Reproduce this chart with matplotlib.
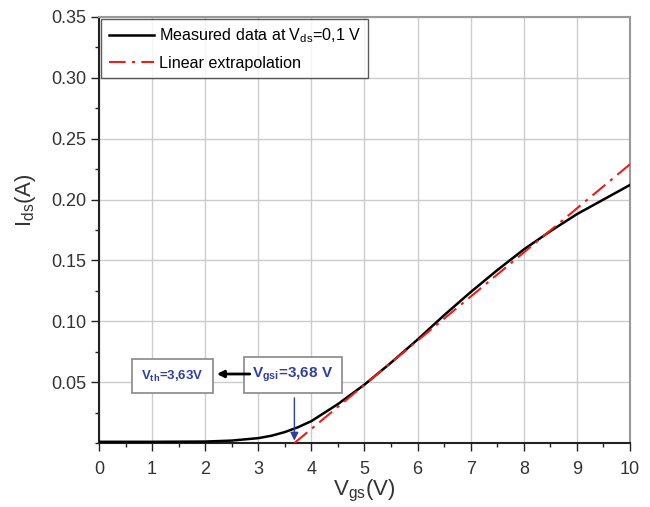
import numpy as np
import matplotlib
matplotlib.use("Agg")
import matplotlib.pyplot as plt
from matplotlib.ticker import MultipleLocator, FixedLocator

plt.rcParams['font.family'] = ['Liberation Sans', 'DejaVu Sans']

# -----------------------------
# data
# -----------------------------
vgs = [0, 1, 2, 2.5, 3, 3.25, 3.5, 3.75, 4, 4.25, 4.5, 4.75, 5, 5.5,
       6, 6.5, 7, 7.5, 8, 8.5, 9, 9.5, 10]
ids = [0.001, 0.001, 0.0012, 0.002, 0.004, 0.006, 0.009, 0.013, 0.018,
       0.025, 0.032, 0.040, 0.048, 0.066, 0.085, 0.105, 0.124, 0.142,
       0.159, 0.174, 0.188, 0.200, 0.212]

extrap_x = [3.68, 10]
extrap_y = [0.0, 0.229]

vgsi = 3.68
vth = 3.63

y_ticks = [0.05, 0.10, 0.15, 0.20, 0.25, 0.30, 0.35]
blue = "#2f3f9e"

# -----------------------------
# figure
# -----------------------------
fig = plt.figure(figsize=(6.5, 5.07), dpi=100)
ax = fig.add_axes([0.1523, 0.1262, 0.8169, 0.8403])

ax.plot(vgs, ids, color="black", lw=1.8, label=r"Measured data at V$_{\mathregular{ds}}$=0,1 V", zorder=3)
ax.plot(extrap_x, extrap_y, color="#e8201a", lw=1.5, ls=(0, (8, 3, 1.5, 3)),
        label="Linear extrapolation", zorder=4)

ax.set_xlim(0, 10)
ax.set_ylim(0, 0.35)
ax.xaxis.set_major_locator(MultipleLocator(1))
ax.xaxis.set_minor_locator(MultipleLocator(0.5))
ax.yaxis.set_major_locator(FixedLocator(y_ticks))
ax.yaxis.set_minor_locator(MultipleLocator(0.025))
ax.set_yticklabels(["%.2f" % v for v in y_ticks])

ax.grid(True, which="major", color="#cccccc", lw=1.0)
ax.set_axisbelow(True)
ax.tick_params(which="major", direction="out", length=6, width=1, labelsize=13,
               colors="#222222", labelcolor="#333333", pad=3)
ax.tick_params(which="minor", direction="out", length=3, width=1, colors="#222222")
ax.tick_params(axis="x", pad=7)

for s in ["left", "bottom"]:
    ax.spines[s].set_color("#222222")
    ax.spines[s].set_linewidth(1.5)
for s in ["top", "right"]:
    ax.spines[s].set_color("#999999")
    ax.spines[s].set_linewidth(1.5)

ax.set_xlabel(r"V$_{\mathregular{gs}}$(V)", fontsize=16, color="#333333", labelpad=0)
ax.set_ylabel(r"I$_{\mathregular{ds}}$(A)", fontsize=16, color="#333333")
ax.yaxis.set_label_coords(-0.115, 0.57)

leg = ax.legend(loc="upper left", fontsize=11.6, frameon=True, fancybox=False,
                borderpad=0.45, handlelength=2.8, handletextpad=0.3,
                labelspacing=0.65, borderaxespad=0.15)
leg.get_frame().set_edgecolor("#333333")
leg.get_frame().set_linewidth(1.0)

# annotations
ax.text(1.385, 0.055, r"V$_{\mathregular{th}}$=3,63V", color=blue, fontsize=9.5,
        fontweight="bold", ha="center", va="center",
        bbox=dict(boxstyle="square,pad=0.7", fc="white", ec="#888888", lw=1.2))
ax.text(3.65, 0.056, r"V$_{\mathregular{gsi}}$=3,68 V", color=blue, fontsize=11,
        fontweight="bold", ha="center", va="center",
        bbox=dict(boxstyle="square,pad=0.55", fc="white", ec="#888888", lw=1.2))
ax.annotate("", xy=(2.22, 0.0567), xytext=(2.84, 0.0567),
            arrowprops=dict(arrowstyle="-|>", color="black", lw=2, mutation_scale=10,
                            shrinkA=0, shrinkB=0))
ax.annotate("", xy=(vgsi, 0.002), xytext=(vgsi, 0.037),
            arrowprops=dict(arrowstyle="-|>", color=blue, lw=1, mutation_scale=12,
                            shrinkA=0, shrinkB=0))

fig.savefig("out.png", dpi=100)
